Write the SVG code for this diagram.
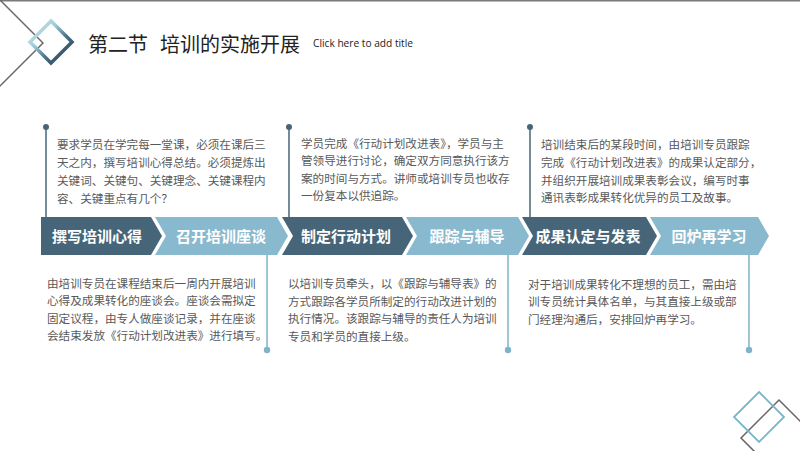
<svg xmlns="http://www.w3.org/2000/svg" width="800" height="451" viewBox="0 0 800 451">
<defs>
<linearGradient id="dg" x1="0" y1="0" x2="1" y2="1">
<stop offset="0" stop-color="#d8eef4"/>
<stop offset="0.35" stop-color="#9fcbd9"/>
<stop offset="0.6" stop-color="#4f7488"/>
<stop offset="1" stop-color="#1b3344"/>
</linearGradient>
<style>
.dark{fill:#466579}
.light{fill:#89b9ce}
.lbl{font-family:"Noto Sans CJK SC","Noto Sans",sans-serif;font-size:15px;font-weight:bold;fill:#ffffff;text-anchor:middle}
.body{font-family:"Noto Sans CJK SC","Noto Sans",sans-serif;font-size:11.6px;fill:#595959}
.ltop{stroke:#466579;stroke-width:1.5;fill:none}
.lbot{stroke:#7db4ca;stroke-width:1.5;fill:none}
.dtop{fill:#466579}
.dbot{fill:#7db4ca}
</style>
</defs>
<rect x="0" y="0" width="800" height="451" fill="#ffffff"/>
<line x1="0" y1="0.5" x2="800" y2="0.5" stroke="#7a7a7a" stroke-width="2"/>
<g id="header">
<polygon points="43,43 0,0 -43,43 0,86" fill="none" stroke="#6b6b6b" stroke-width="1.5"/>
<polygon points="51,21 72,42 51,63 30,42" fill="none" stroke="url(#dg)" stroke-width="3.5"/>
<text x="88" y="52" font-family="Noto Sans CJK SC, sans-serif" font-size="20" fill="#222222">第二节</text>
<text x="160" y="52" font-family="Noto Sans CJK SC, sans-serif" font-size="20" fill="#222222">培训的实施开展</text>
<text x="313" y="47" font-family="Open Sans, sans-serif" font-size="10" fill="#222222" textLength="100" lengthAdjust="spacingAndGlyphs">Click here to add title</text>
</g>
<g id="connectors">
<line class="ltop" x1="46" y1="127" x2="46" y2="217"/>
<line class="ltop" x1="289" y1="127" x2="289" y2="217"/>
<line class="ltop" x1="530" y1="127" x2="530" y2="217"/>
<circle class="dtop" cx="46" cy="127" r="3"/>
<circle class="dtop" cx="289" cy="127" r="3"/>
<circle class="dtop" cx="530" cy="127" r="3"/>
<line class="lbot" x1="267" y1="255" x2="267" y2="350"/>
<line class="lbot" x1="508" y1="255" x2="508" y2="350"/>
<line class="lbot" x1="749" y1="255" x2="749" y2="350"/>
<circle class="dbot" cx="267" cy="350" r="3.2"/>
<circle class="dbot" cx="508" cy="350" r="3.2"/>
<circle class="dbot" cx="749" cy="350" r="3.2"/>
</g>
<g id="step1">
<polygon class="dark" points="41,217 151,217 162,236 151,255 41,255"/>
<text class="lbl" x="97" y="242">撰写培训心得</text>
</g>
<g id="step2">
<polygon class="light" points="155,217 277,217 288,236 277,255 155,255 166,236"/>
<text class="lbl" x="221" y="242">召开培训座谈</text>
</g>
<g id="step3">
<polygon class="dark" points="282,217 402,217 413,236 402,255 282,255 293,236"/>
<text class="lbl" x="346" y="242">制定行动计划</text>
</g>
<g id="step4">
<polygon class="light" points="406,217 518,217 529,236 518,255 406,255 417,236"/>
<text class="lbl" x="467" y="242">跟踪与辅导</text>
</g>
<g id="step5">
<polygon class="dark" points="522,217 646,217 657,236 646,255 522,255 533,236"/>
<text class="lbl" x="588" y="242">成果认定与发表</text>
</g>
<g id="step6">
<polygon class="light" points="650,217 758,217 769,236 758,255 650,255 661,236"/>
<text class="lbl" x="709" y="242">回炉再学习</text>
</g>
<g id="text1">
<text class="body" x="57" y="148.5">要求学员在学完每一堂课，必须在课后三</text>
<text class="body" x="57" y="166.5">天之内，撰写培训心得总结。必须提炼出</text>
<text class="body" x="57" y="184.5">关键词、关键句、关键理念、关键课程内</text>
<text class="body" x="57" y="202.5">容、关键重点有几个？</text>
</g>
<g id="text2">
<text class="body" x="301" y="147.5">学员完成《行动计划改进表》，学员与主</text>
<text class="body" x="301" y="165">管领导进行讨论，确定双方同意执行该方</text>
<text class="body" x="301" y="182.5">案的时间与方式。讲师或培训专员也收存</text>
<text class="body" x="301" y="200">一份复本以供追踪。</text>
</g>
<g id="text3">
<text class="body" x="541" y="148.5">培训结束后的某段时间，由培训专员跟踪</text>
<text class="body" x="541" y="166.5">完成《行动计划改进表》的成果认定部分，</text>
<text class="body" x="541" y="184.5">并组织开展培训成果表彰会议，编写时事</text>
<text class="body" x="541" y="202">通讯表彰成果转化优异的员工及故事。</text>
</g>
<g id="text4">
<text class="body" x="47" y="287.5">由培训专员在课程结束后一周内开展培训</text>
<text class="body" x="47" y="305">心得及成果转化的座谈会。座谈会需拟定</text>
<text class="body" x="47" y="322.5">固定议程，由专人做座谈记录，并在座谈</text>
<text class="body" x="47" y="340">会结束发放《行动计划改进表》进行填写。</text>
</g>
<g id="text5">
<text class="body" x="288" y="287.5">以培训专员牵头，以《跟踪与辅导表》的</text>
<text class="body" x="288" y="305.5">方式跟踪各学员所制定的行动改进计划的</text>
<text class="body" x="288" y="323">执行情况。该跟踪与辅导的责任人为培训</text>
<text class="body" x="288" y="340.5">专员和学员的直接上级。</text>
</g>
<g id="text6">
<text class="body" x="528" y="288.5">对于培训成果转化不理想的员工，需由培</text>
<text class="body" x="528" y="306">训专员统计具体名单，与其直接上级或部</text>
<text class="body" x="528" y="323.5">门经理沟通后，安排回炉再学习。</text>
</g>
<g id="corner-deco">
<polygon points="779,400 817,438 779,476 741,438" fill="none" stroke="#666666" stroke-width="1.5"/>
<polygon points="759,392 784,417 759,442 734,417" fill="none" stroke="#7ab5c8" stroke-width="1.8"/>
</g>
</svg>
